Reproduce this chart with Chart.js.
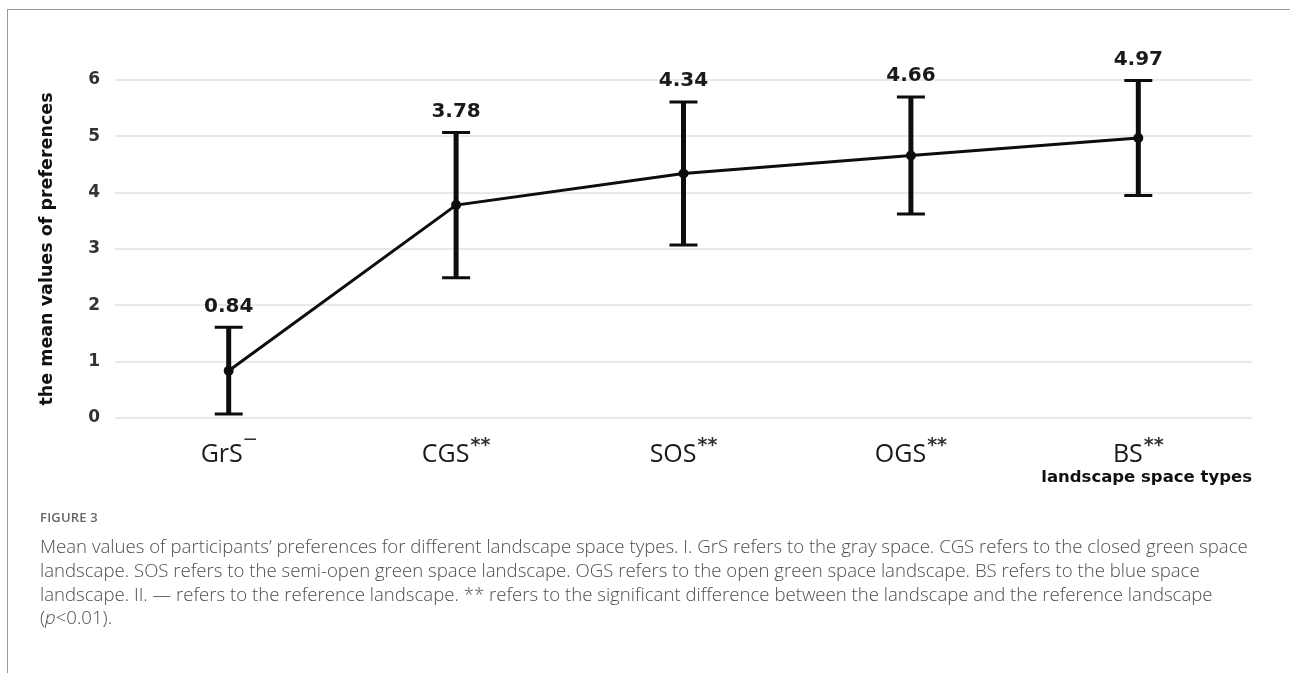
<!DOCTYPE html>
<html>
<head>
<meta charset="utf-8">
<script src="https://cdn.jsdelivr.net/npm/chart.js@4"></script>
<style>
  html, body { margin: 0; padding: 0; background: #fff; }
  body { width: 1290px; height: 673px; position: relative; overflow: hidden; }
  .frame { position: absolute; left: 7px; top: 9px; width: 1300px; height: 700px;
           border-top: 1px solid #9a9a9a; border-left: 1px solid #9a9a9a; }
  .chart-box { position: absolute; left: 8px; top: 10px; width: 1282px; height: 500px; }
  .caption { position: absolute; left: 40px; top: 506px; width: 1248px;
             font-family: "Open Sans", sans-serif; color: #4d4d4d; }
  .caption .fig { font-size: 13px; font-weight: 600; color: #666; letter-spacing: 0.2px; line-height: 22px; }
  .caption .txt { font-size: 18.6px; font-weight: 300; line-height: 23.8px; margin-top: 6px; white-space: nowrap; }
</style>
</head>
<body>
<div class="frame"></div>
<div class="chart-box"><canvas id="chart"></canvas></div>
<div class="caption">
  <div class="fig">FIGURE 3</div>
  <div class="txt">Mean values of participants’ preferences for different landscape space types. I. GrS refers to the gray space. CGS refers to the closed green space<br>landscape. SOS refers to the semi-open green space landscape. OGS refers to the open green space landscape. BS refers to the blue space<br>landscape. II. — refers to the reference landscape. ** refers to the significant difference between the landscape and the reference landscape<br>(<i>p</i>&lt;0.01).</div>
</div>

<script>
// data
const categories = ["GrS", "CGS", "SOS", "OGS", "BS"];
const sigMarks = ["\u2014", "**", "**", "**", "**"];
const means = [0.84, 3.78, 4.34, 4.66, 4.97];
const errors = [0.77, 1.29, 1.27, 1.04, 1.02];

// error bars + value labels on top of each cap
const errorBars = {
    id: "errorBars",
    afterDatasetsDraw(chart) {
        const { ctx, scales: { x, y } } = chart;
        ctx.save();
        ctx.strokeStyle = "#0d0d0d";
        means.forEach((m, i) => {
            const px = x.getPixelForValue(i);
            const top = y.getPixelForValue(m + errors[i]);
            const bot = y.getPixelForValue(m - errors[i]);
            ctx.lineWidth = 5;
            ctx.beginPath();
            ctx.moveTo(px, top);
            ctx.lineTo(px, bot);
            ctx.stroke();
            ctx.lineWidth = 3;
            ctx.beginPath();
            ctx.moveTo(px - 14, top); ctx.lineTo(px + 14, top);
            ctx.moveTo(px - 14, bot); ctx.lineTo(px + 14, bot);
            ctx.stroke();

            ctx.fillStyle = "#1a1a1a";
            ctx.font = "bold 20px 'DejaVu Sans'";
            ctx.textAlign = "center";
            ctx.textBaseline = "middle";
            ctx.fillText(m.toFixed(2), px, top - 21);
        });
        ctx.restore();
    }
};

// category labels with superscript significance marks
const catLabels = {
    id: "catLabels",
    afterDraw(chart) {
        const { ctx, scales: { x } } = chart;
        const baseY = x.top + 44;
        ctx.save();
        ctx.textBaseline = "alphabetic";
        ctx.textAlign = "left";
        categories.forEach((c, i) => {
            const supFont = i === 0 ? "bold 13px 'DejaVu Sans'" : "bold 19px 'DejaVu Sans'";
            ctx.font = "25px 'Open Sans'";
            const w1 = ctx.measureText(c).width;
            ctx.font = supFont;
            const w2 = ctx.measureText(sigMarks[i]).width;
            const start = x.getPixelForValue(i) - (w1 + w2 + 1) / 2;
            ctx.fillStyle = "#1a1a1a";
            ctx.font = "25px 'Open Sans'";
            ctx.fillText(c, start, baseY);
            ctx.fillStyle = "#333";
            ctx.font = supFont;
            ctx.fillText(sigMarks[i], start + w1 + 1, baseY - (i === 0 ? 19 : 11));
        });
        ctx.restore();
    }
};

new Chart(document.getElementById("chart"), {
    type: "line",
    data: {
        labels: categories,
        datasets: [{
            data: means,
            borderColor: "#0d0d0d",
            borderWidth: 3,
            pointRadius: 5,
            pointBackgroundColor: "#0d0d0d",
            pointBorderWidth: 0,
            tension: 0
        }]
    },
    options: {
        responsive: true,
        maintainAspectRatio: false,
        animation: false,
        layout: { padding: { top: 70, right: 38, left: 0, bottom: 0 } },
        plugins: { legend: { display: false }, tooltip: { enabled: false } },
        scales: {
            x: {
                offset: true,
                grid: { display: false },
                border: { display: false },
                ticks: { display: false },
                afterFit: (s) => { s.height = 92; },
                title: {
                    display: true,
                    text: "landscape space types",
                    align: "end",
                    color: "#111",
                    font: { family: "DejaVu Sans", size: 16.5, weight: "bold" },
                    padding: { top: 0, bottom: 22 }
                }
            },
            y: {
                min: 0,
                max: 6,
                ticks: {
                    stepSize: 1,
                    padding: 15,
                    color: "#333",
                    font: { family: "DejaVu Sans", size: 17, weight: "bold" }
                },
                grid: { color: "#e9e9e9", lineWidth: 2, drawTicks: false },
                border: { display: false },
                afterFit: (s) => { s.width = 107; },
                title: {
                    display: true,
                    text: "the mean values of preferences",
                    color: "#111",
                    font: { family: "DejaVu Sans", size: 17.5, weight: "bold" },
                    padding: { top: 29, bottom: 0 }
                }
            }
        }
    },
    plugins: [errorBars, catLabels]
});
</script>
</body>
</html>
